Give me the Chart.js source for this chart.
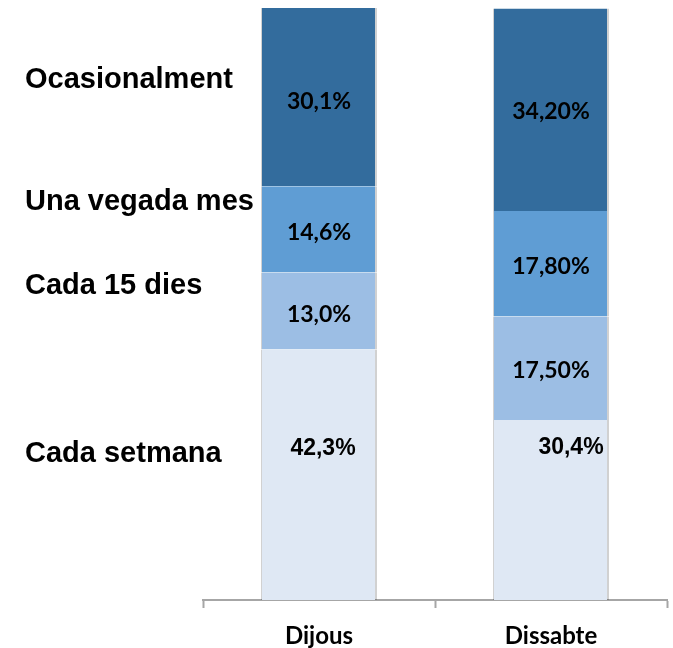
<!DOCTYPE html>
<html>
<head>
<meta charset="utf-8">
<script src="https://cdn.jsdelivr.net/npm/chart.js@4/dist/chart.umd.min.js"></script>
<style>
  html, body { margin: 0; padding: 0; background: #ffffff; }
  canvas { display: block; }
</style>
</head>
<body>
<canvas id="freqChart" width="673" height="648"></canvas>
<script>
// Data
const days = ['Dijous', 'Dissabte'];
const seriesNames = ['Cada setmana', 'Cada 15 dies', 'Una vegada mes', 'Ocasionalment'];
const cadaSetmana = [42.3, 30.4];
const cada15Dies = [13.0, 17.5];
const unaVegadaMes = [14.6, 17.8];
const ocasionalment = [30.1, 34.2];
const valueTexts = [
    ['42,3%', '30,4%'],
    ['13,0%', '17,50%'],
    ['14,6%', '17,80%'],
    ['30,1%', '34,20%']
];

// Styles
const colors = ['#DFE8F4', '#9CBEE4', '#5F9DD4', '#336C9D'];
// label nudges per [series][day], pixels
const valueNudge = [
    [[4, -26], [20, -62]],
    [[0, 3], [0, 2]],
    [[0, 3], [0, 3]],
    [[0, 4], [0, 2]]
];
const nameNudge = [-21, -25, -27, -17];

// Series names on the left + value labels inside the bars
const barLabels = {
    id: 'barLabels',
    afterDatasetsDraw(chart) {
        const ctx = chart.ctx;
        ctx.save();
        ctx.fillStyle = '#000000';
        ctx.textBaseline = 'middle';

        chart.data.datasets.forEach((ds, i) => {
            const meta = chart.getDatasetMeta(i);
            meta.data.forEach((bar, j) => {
                const mid = (bar.y + bar.base) / 2;
                const nudge = valueNudge[i][j];
                ctx.textAlign = 'center';
                ctx.font = i === 0
                    ? 'bold 23px "Liberation Sans", Arial, sans-serif'
                    : 'bold 23px Lato, sans-serif';
                ctx.fillText(valueTexts[i][j], bar.x + nudge[0], mid + nudge[1]);
            });

            // name next to the first bar
            const first = meta.data[0];
            const y = (first.y + first.base) / 2 + nameNudge[i];
            ctx.textAlign = 'left';
            ctx.font = 'bold 29px "Liberation Sans", Arial, sans-serif';
            ctx.fillText(ds.label, 25, y);
        });
        ctx.restore();
    }
};

const datasets = [cadaSetmana, cada15Dies, unaVegadaMes, ocasionalment].map((vals, i) => ({
    label: seriesNames[i],
    data: vals,
    backgroundColor: colors[i],
    borderColor: 'rgba(0, 0, 0, 0.18)',
    borderWidth: { left: 1, right: 2, top: 0, bottom: 0 },
    borderSkipped: false,
    barPercentage: 0.5,
    categoryPercentage: 1.0
}));

new Chart(document.getElementById('freqChart'), {
    type: 'bar',
    data: {
        labels: days,
        datasets: datasets
    },
    options: {
        responsive: false,
        animation: false,
        layout: {
            padding: { left: 203, right: 6, top: 8, bottom: 0 }
        },
        plugins: {
            legend: { display: false },
            tooltip: { enabled: false }
        },
        scales: {
            x: {
                stacked: true,
                afterFit(scale) {
                    scale.height = 48;
                },
                grid: {
                    offset: true,
                    drawOnChartArea: false,
                    drawTicks: true,
                    tickLength: 8,
                    tickWidth: 2,
                    color: '#A6A6A6'
                },
                border: {
                    display: true,
                    color: '#A6A6A6',
                    width: 2
                },
                ticks: {
                    color: '#000000',
                    padding: 14,
                    font: { family: 'Lato, sans-serif', size: 24, weight: 'bold' }
                }
            },
            y: {
                stacked: true,
                display: false,
                min: 0,
                max: 100
            }
        }
    },
    plugins: [barLabels]
});
</script>
</body>
</html>
